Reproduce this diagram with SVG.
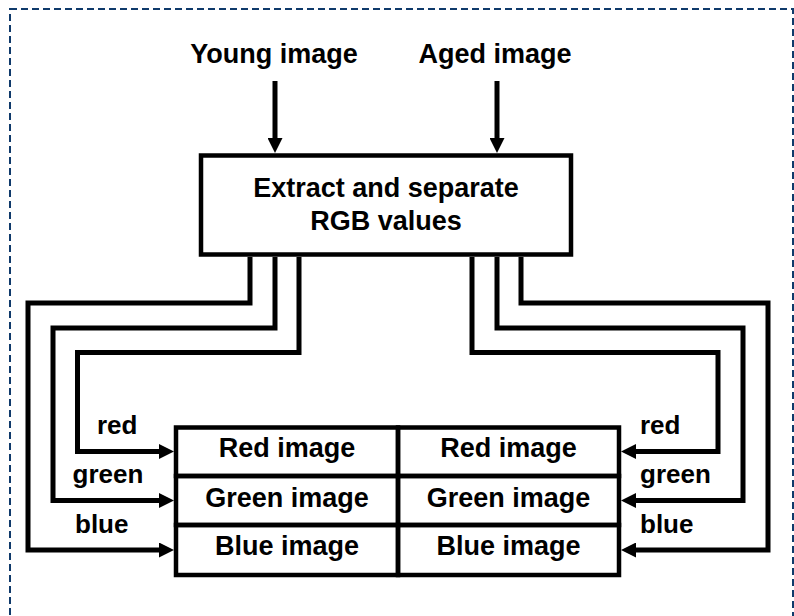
<svg xmlns="http://www.w3.org/2000/svg" width="794" height="616" viewBox="0 0 794 616">
  <style>
    .frame { fill: none; stroke: #0f3a6b; stroke-width: 2; stroke-dasharray: 7 4; }
    .box { fill: #ffffff; stroke: #000000; stroke-width: 4.5; }
    .cell { fill: none; stroke: #000000; stroke-width: 4.5; }
    .wire { fill: none; stroke: #000000; stroke-width: 5; stroke-linejoin: miter; marker-end: url(#arrow); }
    .t { font-family: "Liberation Sans", Arial, sans-serif; font-weight: bold; font-size: 27px; fill: #000000; }
    .lbl { font-family: "Liberation Sans", Arial, sans-serif; font-weight: bold; font-size: 26px; fill: #000000; }
    .mid { text-anchor: middle; }
  </style>
  <defs>
    <marker id="arrow" markerUnits="userSpaceOnUse" markerWidth="15" markerHeight="15" refX="5" refY="7.5" orient="auto">
      <path d="M0,0 L15,7.5 L0,15 z" fill="#000000"/>
    </marker>
  </defs>

  <rect width="794" height="616" fill="#ffffff"/>
  <!-- dashed outer frame -->
  <rect class="frame" x="10" y="9" width="783" height="620"/>

  <!-- inputs -->
  <g id="young">
    <text class="t mid" x="274" y="63">Young image</text>
  </g>
  <g id="aged">
    <text class="t mid" x="495" y="63">Aged image</text>
  </g>

  <!-- extraction step -->
  <g id="extract">
    <rect class="box" x="201" y="155.5" width="370" height="99"/>
    <text class="t mid" x="386" y="197">Extract and separate</text>
    <text class="t mid" x="386" y="229.5">RGB values</text>
  </g>

  <!-- channel image table -->
  <g id="young-red"><rect class="cell" x="176" y="427.5" width="222" height="48.5"/><text class="t mid" x="287" y="457">Red image</text></g>
  <g id="young-green"><rect class="cell" x="176" y="476" width="222" height="49"/><text class="t mid" x="287" y="506.5">Green image</text></g>
  <g id="young-blue"><rect class="cell" x="176" y="525" width="222" height="50"/><text class="t mid" x="287" y="555">Blue image</text></g>
  <g id="aged-red"><rect class="cell" x="398" y="427.5" width="221" height="48.5"/><text class="t mid" x="508.5" y="457">Red image</text></g>
  <g id="aged-green"><rect class="cell" x="398" y="476" width="221" height="49"/><text class="t mid" x="508.5" y="506.5">Green image</text></g>
  <g id="aged-blue"><rect class="cell" x="398" y="525" width="221" height="50"/><text class="t mid" x="508.5" y="555">Blue image</text></g>

  <!-- connectors -->
  <g id="connectors">
    <line class="wire" x1="275" y1="81" x2="275" y2="143"/>
    <line class="wire" x1="497" y1="81" x2="497" y2="143"/>

    <!-- young image channels -->
    <polyline class="wire" points="250,257 250,303 28,303 28,550 164,550"/>
    <polyline class="wire" points="275,257 275,328 53,328 53,500.5 164,500.5"/>
    <polyline class="wire" points="299,257 299,352.5 77.5,352.5 77.5,451.5 164,451.5"/>

    <!-- aged image channels -->
    <polyline class="wire" points="521,257 521,303 768,303 768,550 631,550"/>
    <polyline class="wire" points="497,257 497,328 743,328 743,500.5 631,500.5"/>
    <polyline class="wire" points="472,257 472,352.5 718,352.5 718,451.5 631,451.5"/>

    <text class="lbl" x="97" y="434">red</text>
    <text class="lbl" x="72.5" y="483">green</text>
    <text class="lbl" x="75" y="533">blue</text>
    <text class="lbl" x="640" y="434">red</text>
    <text class="lbl" x="640" y="483">green</text>
    <text class="lbl" x="640" y="533">blue</text>
  </g>
</svg>
